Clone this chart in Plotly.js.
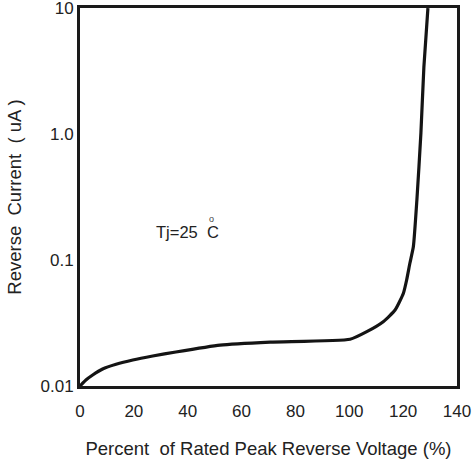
<!DOCTYPE html>
<html>
<head>
<meta charset="utf-8">
<script src="https://cdn.plot.ly/plotly-3.0.1.min.js"></script>
<style>html,body{margin:0;padding:0;background:#fff;}#chart{width:476px;height:466px;}</style>
</head>
<body>
<div id="chart"></div>
<script>
// Data
const voltagePct = [0, 2.2, 4.7, 8.4, 13.4, 19.6, 27.0, 35.6, 52.0, 70.6, 100.3, 106.5, 112.6, 117.0, 120.1, 121.3, 122.5, 123.8, 125.1, 126.6, 127.7, 129.2];
const reverseCurrent = [0.0100, 0.01117, 0.01223, 0.01365, 0.01486, 0.01607, 0.01729, 0.01862, 0.0211, 0.0223, 0.0235, 0.0270, 0.0324, 0.0401, 0.0545, 0.0694, 0.0942, 0.128, 0.299, 1.02, 3.40, 10.0];
const xTickVals = [0, 20, 40, 60, 80, 100, 120, 140];
const xTickText = ['0', '20', '40', '60', '80', '100', '120', '140'];
const yTickVals = [0.01, 0.1, 1, 10];
const yTickText = ['0.01', '0.1', '1.0', '10'];
const xTitle = 'Percent  of Rated Peak Reverse Voltage (%)';
const yTitle = 'Reverse  Current  ( uA )';
const noteText = 'Tj=25  C';
const degreeText = 'o';

const trace = {
  x: voltagePct,
  y: reverseCurrent,
  type: 'scatter',
  mode: 'lines',
  line: {color: '#141414', width: 3.2, shape: 'spline', smoothing: 0.5},
  hoverinfo: 'skip'
};

const layout = {
  width: 476, height: 466,
  margin: {l: 80, r: 19, t: 8, b: 80},
  paper_bgcolor: '#ffffff', plot_bgcolor: '#ffffff',
  font: {family: 'Liberation Sans, Arial, sans-serif', color: '#222222', size: 17},
  showlegend: false,
  xaxis: {
    range: [0, 140], tickmode: 'array', tickvals: xTickVals, ticktext: xTickText,
    showgrid: false, zeroline: false, showline: true, mirror: true,
    linecolor: '#1a1a1a', linewidth: 3, ticks: '', ticklabelstandoff: 8,
    ticklabeloverflow: 'allow',
    tickfont: {size: 17, color: '#222222'},
    title: {text: xTitle, font: {size: 18.5, color: '#222222'}, standoff: 22}
  },
  yaxis: {
    type: 'log', range: [-2, 1.0005], tickmode: 'array', tickvals: yTickVals, ticktext: yTickText,
    showgrid: false, zeroline: false, showline: true, mirror: true,
    linecolor: '#1a1a1a', linewidth: 3, ticks: '', ticklabeloverflow: 'allow',
    tickfont: {size: 17, color: '#222222'},
    title: {text: yTitle, font: {size: 18.5, color: '#222222'}, standoff: 15}
  },
  annotations: [
    {xref: 'paper', yref: 'paper', x: 0.285, y: 0.407, text: noteText, showarrow: false,
     xanchor: 'center', yanchor: 'middle', font: {size: 16.5, color: '#222222'}},
    {xref: 'paper', yref: 'paper', x: 0.349, y: 0.442, text: degreeText, showarrow: false,
     xanchor: 'center', yanchor: 'middle', font: {size: 9, color: '#444444'}}
  ]
};

Plotly.newPlot('chart', [trace], layout, {displayModeBar: false, staticPlot: true});
</script>
</body>
</html>
